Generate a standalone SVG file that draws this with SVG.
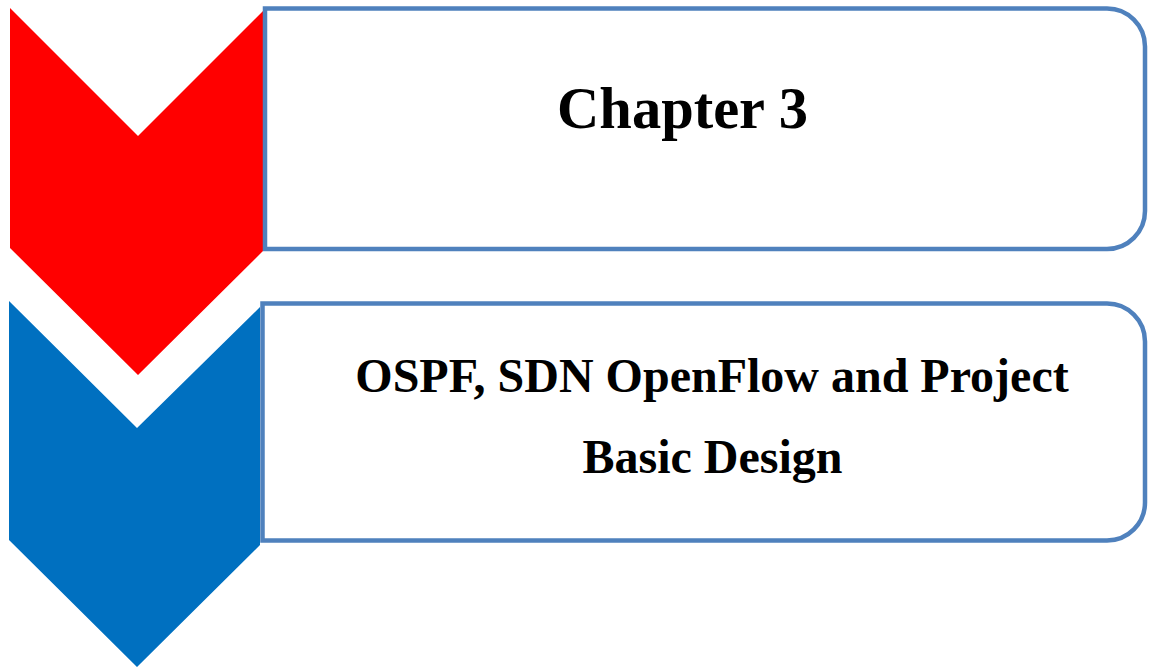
<svg xmlns="http://www.w3.org/2000/svg" width="1149" height="668" viewBox="0 0 1149 668">
  <style>
    .box { fill: #FFFFFF; stroke: #4F81BD; stroke-width: 4.5; }
    .title { font-family: "Liberation Serif", "Times New Roman", serif; font-weight: bold; fill: #000000; text-anchor: middle; }
  </style>
  <rect width="1149" height="668" fill="#FFFFFF"/>

  <!-- step 1: red chevron with its label box -->
  <g id="step1">
    <polygon points="10,8 138,136 263,11 263,251 138,375 10,248" fill="#FF0000"/>
    <path class="box" d="M265,8.5 H1107 A38,38 0 0 1 1145,46.5 V211 A38,38 0 0 1 1107,249 H265 Z"/>
    <text class="title" x="682.5" y="128" font-size="58.5">Chapter 3</text>
  </g>

  <!-- step 2: blue chevron with its label box -->
  <g id="step2">
    <polygon points="9,301 137,428 260,307 260,545 137,667 9,540" fill="#0070C0"/>
    <path class="box" d="M262.5,303.5 H1107 A38,38 0 0 1 1145,341.5 V502.5 A38,38 0 0 1 1107,540.5 H262.5 Z"/>
    <text class="title" x="712" y="392" font-size="48">OSPF, SDN OpenFlow and Project</text>
    <text class="title" x="712.5" y="473" font-size="48">Basic Design</text>
  </g>

  <g id="connectors"></g>
</svg>
